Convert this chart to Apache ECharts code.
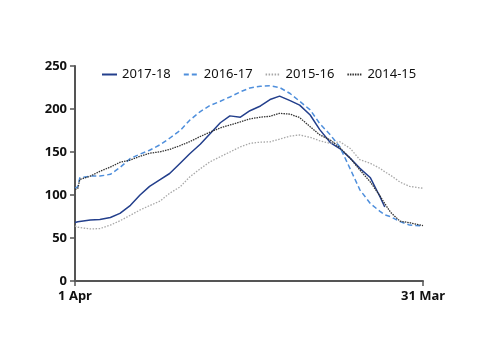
<!DOCTYPE html>
<html>
<head>
<meta charset="utf-8">
<script src="https://cdn.jsdelivr.net/npm/echarts@6/dist/echarts.min.js"></script>
<style>
    html, body { margin: 0; padding: 0; background: #fff; }
    #myChart { width: 500px; height: 354px; }
</style>
</head>
<body>
<div id="myChart"></div>
<script>
// day of the season (0 = 1 Apr, 364 = 31 Mar)
var days = [0, 3, 5, 16, 26, 37, 47, 58, 68, 78, 89, 99, 110, 120, 131, 141, 152, 162, 173, 183,
    194, 204, 214, 225, 235, 246, 256, 267, 277, 288, 298, 309, 319, 324, 330, 340, 350, 364];

var s2017 = [68, 69, 69.5, 70.9, 71.5, 73.8, 78.7, 88, 100, 110, 118, 125, 137, 148, 159, 171, 184, 192, 190.5, 198,
    203.5, 211, 215, 209.7, 204.5, 193, 176, 161, 154, 142.6, 131, 120, 98, 86, null, null, null, null];
var s2016 = [107.8, 109.7, 120, 122, 122, 124, 132, 142.6, 147.5, 152, 158.5, 166, 175, 187, 197, 204, 209, 214, 220, 224.5,
    226.5, 227, 225, 218, 209, 199, 183, 170, 156, 130, 106, 90, 81, 77, 74.8, 69, 65, 64];
var s2015 = [64, 62.5, 62, 60.5, 61, 65, 70, 76.5, 82.6, 87.6, 93, 102, 109.5, 121, 130.5, 138.5, 144.5, 150, 156, 160,
    161.5, 161.8, 165, 168.5, 169.8, 167, 163, 160, 162, 154, 141, 136.8, 131, 127, 123, 115, 110, 107.8];
var s2014 = [106.6, 107.8, 118, 122, 127.5, 132.5, 138, 140.7, 145, 148.6, 150.2, 153, 157.5, 162, 168, 173, 178, 181.4, 185, 188.5,
    190.5, 191.5, 195, 194, 190, 179.4, 170, 164, 155, 142.6, 129, 115, 99, 90, 80, 69.5, 67.8, 64.3];

var xTickLabels = ['1 Apr', '31 Mar'];
var yTicks = [0, 50, 100, 150, 200, 250];

function pairs(vals) {
    return days.map(function (d, i) { return [d, vals[i]]; });
}

var myChart = echarts.init(document.getElementById('myChart'));
var axisColor = '#555555';
var font = 'Noto Sans';

myChart.setOption({
    animation: false,
    grid: { left: 75, right: 77, top: 66, bottom: 73 },
    legend: {
        left: 96,
        top: 63,
        itemWidth: 15,
        itemHeight: 10,
        itemGap: 12,
        itemStyle: { opacity: 0 },
        textStyle: { color: '#111', fontSize: 13, fontFamily: font },
        data: ['2017-18', '2016-17', '2015-16', '2014-15']
    },
    xAxis: {
        type: 'value',
        min: 0,
        max: 364,
        interval: 364,
        axisLine: { show: true, lineStyle: { color: axisColor, width: 2 } },
        axisTick: { show: true, length: 5, lineStyle: { color: axisColor, width: 1.5 } },
        splitLine: { show: false },
        axisLabel: {
            margin: 9,
            color: '#111',
            fontSize: 13,
            fontWeight: 'bold',
            fontFamily: font,
            formatter: function (v) { return v === 0 ? xTickLabels[0] : xTickLabels[1]; }
        }
    },
    yAxis: {
        type: 'value',
        min: yTicks[0],
        max: yTicks[yTicks.length - 1],
        interval: 50,
        axisLine: { show: true, lineStyle: { color: axisColor, width: 2 } },
        axisTick: { show: true, length: 5, lineStyle: { color: axisColor, width: 1.5 } },
        splitLine: { show: false },
        axisLabel: { margin: 8, color: '#111', fontSize: 13, fontWeight: 'bold', fontFamily: font }
    },
    series: [
        {
            name: '2017-18', type: 'line', symbol: 'none', data: pairs(s2017),
            lineStyle: { color: '#233f8c', width: 1.5 }, itemStyle: { color: '#233f8c' }
        },
        {
            name: '2016-17', type: 'line', symbol: 'none', data: pairs(s2016),
            lineStyle: { color: '#4f8fdc', width: 1.5, type: [5, 3] }, itemStyle: { color: '#4f8fdc' }
        },
        {
            name: '2015-16', type: 'line', symbol: 'none', data: pairs(s2015),
            lineStyle: { color: '#a8a8a8', width: 1.3, type: [1.5, 1.5] }, itemStyle: { color: '#a8a8a8' }
        },
        {
            name: '2014-15', type: 'line', symbol: 'none', data: pairs(s2014),
            lineStyle: { color: '#333333', width: 1.3, type: [1.5, 1] }, itemStyle: { color: '#333333' }
        }
    ]
});
</script>
</body>
</html>
